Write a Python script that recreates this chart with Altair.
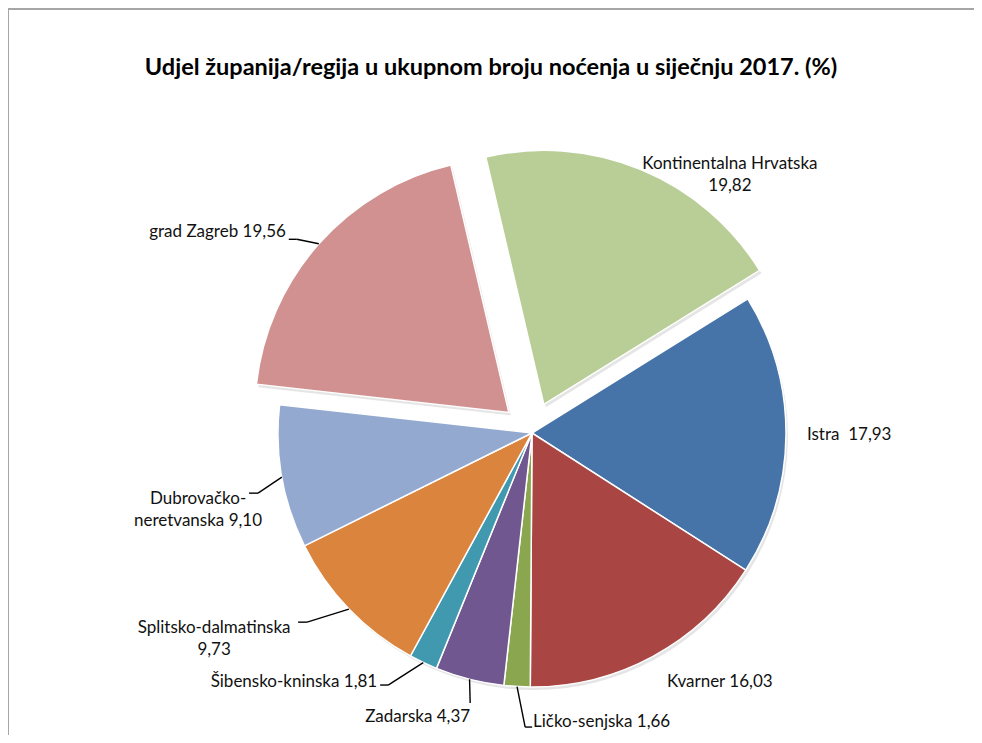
import math
import altair as alt

# ---------------- data ----------------
categories = ["Kontinentalna Hrvatska", "Istra", "Kvarner", "Ličko-senjska", "Zadarska",
              "Šibensko-kninska", "Splitsko-dalmatinska", "Dubrovačko-neretvanska", "grad Zagreb"]
values = [19.82, 17.93, 16.03, 1.66, 4.37, 1.81, 9.73, 9.10, 19.56]
label_texts = [["Kontinentalna Hrvatska", "19,82"], ["Istra\u00a0 17,93"], ["Kvarner 16,03"],
               ["Ličko-senjska 1,66"], ["Zadarska 4,37"], ["Šibensko-kninska 1,81"],
               ["Splitsko-dalmatinska", "9,73"], ["Dubrovačko-", "neretvanska 9,10"],
               ["grad Zagreb 19,56"]]
exploded = ["Kontinentalna Hrvatska", "grad Zagreb"]
title_text = "Udjel županija/regija u ukupnom broju noćenja u siječnju 2017. (%)"

# ---------------- style / layout ----------------
colors = ["#B8CE96", "#4674A8", "#A94543", "#8AA64F", "#71578F",
          "#4199B0", "#DB843D", "#94A9D0", "#D09190"]
W, H = 966, 727
CX, CY = 524, 425          # pie centre inside the chart
R = 254                    # pie radius
EXPLODE = 31               # explosion distance
START_DEG = -13.2          # angle where the first slice starts
FONT = "Lato"
LABEL_SIZE = 17
TITLE_SIZE = 23.5

# label anchor, relative to the slice's outer edge point at its mid angle
label_align = ["center", "left", "left", "left", "right", "right", "center", "center", "right"]
label_offset = [(89, -5.6), (21, 0), (14, 25.7), (16, 35.5), (0.6, 37.8),
                (-46, 19.5), (-134.8, 18.6), (-83.8, 22.1), (-33, -11.5)]
# leader lines: text-side end and knee, relative to the slice edge point (None = no leader)
leader_end = [None, None, None, (15.1, 40.5), (0.6, 23.8), (-43.1, 22.5),
              (-50.8, 13.1), (-32.8, 16.1), (-30.1, -4.5)]
leader_knee = [None, None, None, (8.1, 40.5), (0.6, 23.8), (-35.1, 22.5),
               (-41.8, 13.1), (-23.8, 16.1), (-22.1, -4.5)]

records = []
for i, c in enumerate(categories):
    le = leader_end[i]
    lk = leader_knee[i]
    records.append({
        "category": c,
        "value": values[i],
        "order": i,
        "text": label_texts[i],
        "explode": EXPLODE if c in exploded else 0,
        "align": label_align[i],
        "ldx": label_offset[i][0],
        "ldy": label_offset[i][1],
        "leader": le is not None,
        "tdx": le[0] if le else 0,
        "tdy": le[1] if le else 0,
        "kdx": lk[0] if lk else 0,
        "kdy": lk[1] if lk else 0,
    })

total = sum(values)
start = math.radians(START_DEG)

base = (
    alt.Chart(alt.Data(values=records))
    .transform_window(cum_end="sum(value)", sort=[alt.SortField("order")], frame=[None, 0])
    .transform_calculate(cum_start="datum.cum_end - datum.value")
    .transform_calculate(mid=f"{start} + (datum.cum_end - datum.value / 2) / {total} * 2 * PI")
    .transform_calculate(cx=f"{CX} + datum.explode * sin(datum.mid)")
    .transform_calculate(cy=f"{CY} - datum.explode * cos(datum.mid)")
    .transform_calculate(ex=f"datum.cx + {R} * sin(datum.mid)")
    .transform_calculate(ey=f"datum.cy - {R} * cos(datum.mid)")
    .transform_calculate(lx="datum.ex + datum.ldx", ly="datum.ey + datum.ldy")
    .transform_calculate(tx="datum.ex + datum.tdx", ty="datum.ey + datum.tdy")
    .transform_calculate(kx="datum.ex + datum.kdx", ky="datum.ey + datum.kdy")
)

theta_scale = alt.Scale(domain=[0, total], range=[start, start + 2 * math.pi])

pos = dict(
    theta=alt.Theta("cum_start:Q", scale=theta_scale, stack=None),
    theta2="cum_end:Q",
    x=alt.X("cx:Q", scale=None, axis=None),
    y=alt.Y("cy:Q", scale=None, axis=None),
)

shadow = base.mark_arc(outerRadius=R, color="#000000", opacity=0.10, xOffset=2, yOffset=3).encode(**pos)

arcs = base.mark_arc(outerRadius=R, stroke="white", strokeWidth=1.5).encode(
    color=alt.Color("category:N", scale=alt.Scale(domain=categories, range=colors), legend=None),
    **pos,
)

leaders = base.transform_filter("datum.leader")
seg1 = leaders.mark_rule(color="#000000", strokeWidth=1.4).encode(
    x=alt.X("ex:Q", scale=None, axis=None), y=alt.Y("ey:Q", scale=None, axis=None),
    x2="kx:Q", y2="ky:Q",
)
seg2 = leaders.mark_rule(color="#000000", strokeWidth=1.4).encode(
    x=alt.X("kx:Q", scale=None, axis=None), y=alt.Y("ky:Q", scale=None, axis=None),
    x2="tx:Q", y2="ty:Q",
)

texts = []
for a in ["left", "right", "center"]:
    texts.append(
        base.transform_filter(f"datum.align == '{a}'")
        .mark_text(align=a, baseline="middle", font=FONT, fontSize=LABEL_SIZE,
                   lineHeight=22, color="#111111")
        .encode(
            x=alt.X("lx:Q", scale=None, axis=None),
            y=alt.Y("ly:Q", scale=None, axis=None),
            text="text:N",
        )
    )

title = alt.Chart(alt.Data(values=[{"t": title_text}])).mark_text(
    font=FONT, fontSize=TITLE_SIZE, fontWeight="bold", color="#000000",
    align="center", baseline="middle",
).encode(x=alt.value(W / 2), y=alt.value(60), text="t:N")

border_data = alt.Data(values=[{}])
border_left = alt.Chart(border_data).mark_rule(color="#A6A6A6", strokeWidth=2).encode(
    x=alt.value(0), y=alt.value(0), y2=alt.value(H))
border_top = alt.Chart(border_data).mark_rule(color="#A6A6A6", strokeWidth=2).encode(
    x=alt.value(0), x2=alt.value(W), y=alt.value(1))

chart = alt.layer(
    border_left, border_top, shadow, arcs, seg1, seg2, *texts, title
).properties(
    width=W, height=H, padding=0, autosize=alt.AutoSizeParams(type="none")
).configure_view(stroke="transparent", strokeWidth=0)

chart.save("out.html", embed_options={"renderer": "svg", "actions": False})
